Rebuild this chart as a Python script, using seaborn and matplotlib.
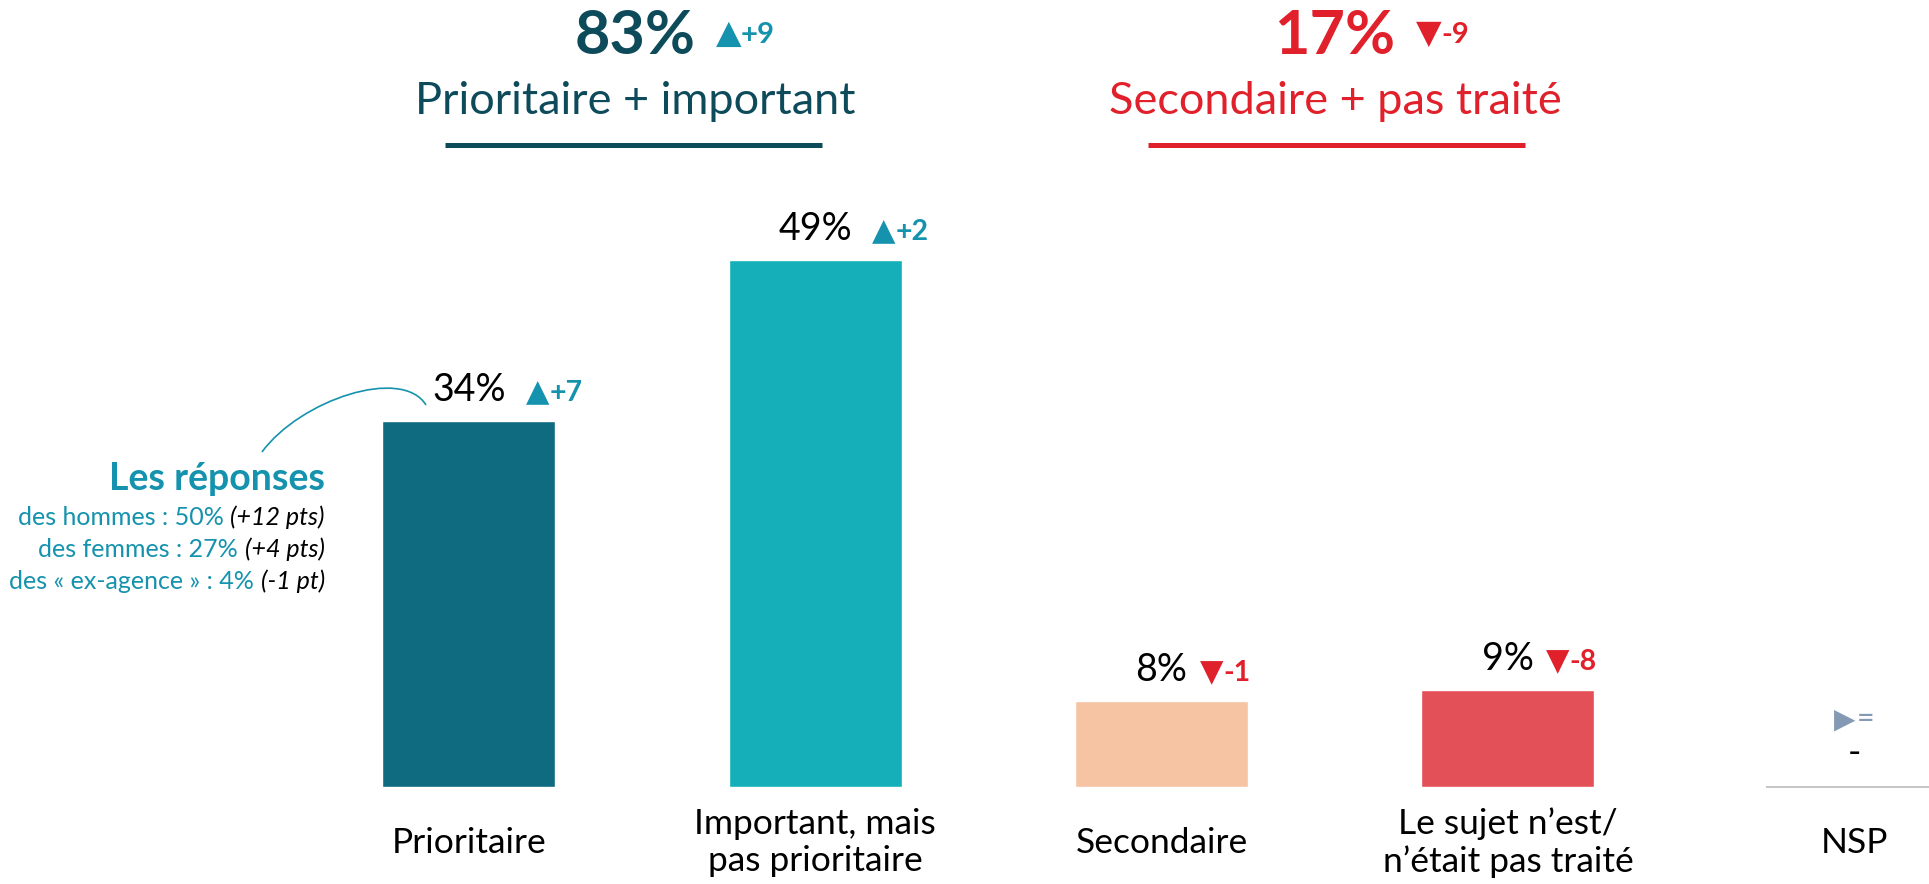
import matplotlib
matplotlib.use("Agg")
import matplotlib.pyplot as plt
import matplotlib.transforms as mtransforms
from matplotlib.lines import Line2D
from matplotlib.path import Path
from matplotlib.patches import PathPatch
import seaborn as sns
import pandas as pd

# ---------------- data ----------------
categories = ["Prioritaire", "Important, mais\npas prioritaire", "Secondaire",
              "Le sujet n’est/\nn’était pas traité", "NSP"]
values = [34, 49, 8, 9, None]
deltas = ["+7", "+2", "-1", "-8", "="]
delta_dirs = ["up", "up", "down", "down", "flat"]

group_titles = ["Prioritaire + important", "Secondaire + pas traité"]
group_totals = [83, 17]
group_deltas = ["+9", "-9"]
group_dirs = ["up", "down"]

note_title = "Les réponses"
note_groups = ["des hommes", "des femmes", "des « ex-agence »"]
note_values = [50, 27, 4]
note_deltas = ["(+12 pts)", "(+4 pts)", "(-1 pt)"]

# ---------------- style ----------------
bar_colors = ["#0f6b80", "#14afb8", "#f7c4a3", "#e45058", "#cccccc"]
DARK = "#0d4a5a"
TEAL = "#1592ad"
RED = "#e0202a"
GREYBLUE = "#8399b4"
FONT = ["Lato", "DejaVu Sans"]
TRI = ["DejaVu Sans"]

sns.set_theme(style="white")
plt.rcParams["font.family"] = FONT

W, H, DPI = 1929, 884, 100
fig = plt.figure(figsize=(W / DPI, H / DPI), dpi=DPI)
fig.patch.set_facecolor("white")
ax = fig.add_axes([0, 97 / H, 1, 787 / H])

df = pd.DataFrame({"cat": categories, "val": values}).dropna()
sns.barplot(data=df, x="cat", y="val", hue="cat", order=categories,
            hue_order=categories, palette=dict(zip(categories, bar_colors)),
            width=0.5, saturation=1, legend=False, ax=ax)

ax.set_xlim(-1.354, 4.216)
ax.set_ylim(0, 73.14)
for s in ax.spines.values():
    s.set_visible(False)
ax.set_yticks([])
ax.set_xlabel("")
ax.set_ylabel("")
ax.set_xticks(range(len(categories)))
ax.set_xticklabels(categories, fontsize=25.5, color="black", linespacing=1.22)
ax.tick_params(axis="x", length=0, pad=40)
for lab in ax.get_xticklabels():
    lab.set_va("center")
ax.set_facecolor("white")

# NSP baseline segment
nsp_i = categories.index("NSP")
ax.hlines(0, nsp_i - 0.255, nsp_i + 0.4, color="#c0c0c0", lw=1.3, clip_on=False)

fig.canvas.draw()
R = fig.canvas.get_renderer()
IDT = mtransforms.IdentityTransform()


def run(parts, x, y, ha="left"):
    """Place a sequence of (text, kwargs, gap_px) in display px, baseline y."""
    texts = []
    cur = x
    for s, kw, gap in parts:
        t = fig.text(cur, y, s, transform=IDT, va="baseline", ha="left", **kw)
        w = t.get_window_extent(R).width
        texts.append(t)
        cur += w + gap
    total = cur - x - parts[-1][2]
    shift = 0
    if ha == "right":
        shift = -total
    elif ha == "center":
        shift = -total / 2
    for t in texts:
        px, py = t.get_position()
        t.set_position((px + shift, py))
    return texts


def tri(d):
    return {"up": "▲", "down": "▼", "flat": "▶"}[d]


# ---------------- bar value labels ----------------
for i, (v, dl, dd) in enumerate(zip(values, deltas, delta_dirs)):
    if v is None:
        xd, y0 = ax.transData.transform((i, 0))
        fig.text(xd, H - 753, "-", transform=IDT, ha="center", va="center",
                 fontsize=26, color="black")
        run([(tri(dd), dict(fontsize=20, family=TRI, color=GREYBLUE), 1),
             (dl, dict(fontsize=22, color=GREYBLUE), 0)],
            xd, H - 728, ha="center")
        continue
    xd, yd = ax.transData.transform((i, v))
    t = fig.text(xd, yd + 20, f"{v}%", transform=IDT, ha="center",
                 va="baseline", fontsize=27, color="black")
    bb = t.get_window_extent(R)
    col = TEAL if dd == "up" else RED
    gap = 20 if dd == "up" else 12
    run([(tri(dd), dict(fontsize=22, family=TRI, color=col), 0),
         (dl, dict(fontsize=20.5, fontweight="bold", color=col), 0)],
        bb.x1 + gap, yd + 20)

# ---------------- group headers ----------------
centers = [635, 1335]
ul = [(445, 822), (1148, 1525)]
hcols = [DARK, RED]
for c, title, tot, gd, gdir, col, (u0, u1) in zip(centers, group_titles, group_totals,
                                                 group_deltas, group_dirs, hcols, ul):
    t = fig.text(c, H - 54, f"{tot}%", transform=IDT, ha="center", va="baseline",
                 fontsize=44, fontweight="bold", color=col)
    bb = t.get_window_extent(R)
    dcol = TEAL if gdir == "up" else RED
    run([(tri(gdir), dict(fontsize=24, family=TRI, color=dcol), 0),
         (gd, dict(fontsize=21, fontweight="bold", color=dcol), 0)],
        bb.x1 + 20, H - 43)
    fig.text(c, H - 114, title, transform=IDT, ha="center", va="baseline",
             fontsize=32.5, color=col)
    fig.add_artist(Line2D([u0 / W, u1 / W], [1 - 145 / H, 1 - 145 / H],
                          transform=fig.transFigure, color=col, lw=3.6,
                          solid_capstyle="butt"))

# ---------------- side note ----------------
fig.text(325, H - 490, note_title, transform=IDT, ha="right", va="baseline",
         fontsize=27, fontweight="bold", color=TEAL)
for k, (g, nv, nd) in enumerate(zip(note_groups, note_values, note_deltas)):
    run([(f"{g} : {nv}%", dict(fontsize=18, color=TEAL), 7),
         (nd, dict(fontsize=18, style="italic", color="black"), 0)],
        325, H - (525 + 32 * k), ha="right")

# connector curve
pts = [(262, 452), (300, 400), (402, 366), (426, 405)]
verts = [(x / W, 1 - y / H) for x, y in pts]
path = Path(verts, [Path.MOVETO, Path.CURVE4, Path.CURVE4, Path.CURVE4])
fig.add_artist(PathPatch(path, transform=fig.transFigure, fill=False,
                         edgecolor=TEAL, lw=1.2))

fig.savefig("out.png", dpi=DPI, facecolor="white")
